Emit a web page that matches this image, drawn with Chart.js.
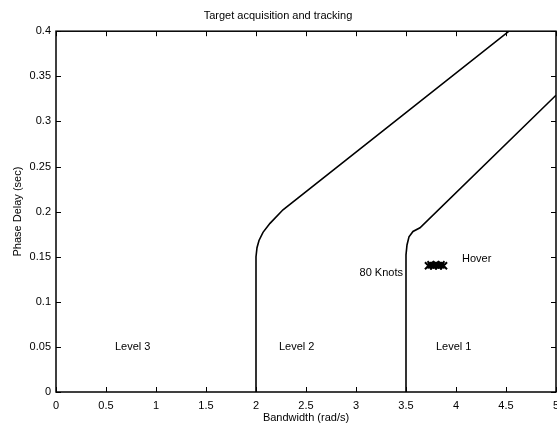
<!DOCTYPE html>
<html>
<head>
<meta charset="utf-8">
<script src="https://cdn.jsdelivr.net/npm/chart.js@4"></script>
<style>
  html, body { margin: 0; padding: 0; background: #fff; }
  #wrap { width: 557px; height: 429px; }
</style>
</head>
<body>
<div id="wrap"><canvas id="c" width="557" height="429"></canvas></div>
<script>
// Axis ticks
const xTickValues = [0, 0.5, 1, 1.5, 2, 2.5, 3, 3.5, 4, 4.5, 5];
const xTickLabels = ['0', '0.5', '1', '1.5', '2', '2.5', '3', '3.5', '4', '4.5', '5'];
const yTickValues = [0, 0.05, 0.1, 0.15, 0.2, 0.25, 0.3, 0.35, 0.4];
const yTickLabels = ['0', '0.05', '0.1', '0.15', '0.2', '0.25', '0.3', '0.35', '0.4'];

// Level 2 / Level 3 boundary
const boundary23X = [2.0, 2.0, 2.01, 2.03, 2.07, 2.14, 2.27, 4.53];
const boundary23Y = [0.0, 0.15, 0.16, 0.168, 0.177, 0.187, 0.202, 0.4];

// Level 1 / Level 2 boundary
const boundary12X = [3.5, 3.5, 3.51, 3.53, 3.57, 3.64, 5.0];
const boundary12Y = [0.0, 0.152, 0.163, 0.172, 0.178, 0.182, 0.329];

// Hover measurement points
const hoverX = [3.725, 3.75, 3.775, 3.8, 3.825, 3.85, 3.875];
const hoverY = [0.140, 0.141, 0.140, 0.141, 0.140, 0.141, 0.140];

// Region and point labels
const regionNames = ['Level 3', 'Level 2', 'Level 1'];
const regionNameX = [0.59, 2.23, 3.8];
const regionNameY = [0.05, 0.05, 0.05];
const noteNames = ['80 Knots', 'Hover'];
const noteX = [3.47, 4.06];
const noteY = [0.132, 0.148];
const noteAlign = ['right', 'left'];

const toPoints = (xs, ys) => xs.map((x, i) => ({ x: x, y: ys[i] }));
const FONT = "'Liberation Sans', Arial, Helvetica, sans-serif";

// Box around the plot with inward tick marks on all four sides
const boxTicks = {
  id: 'boxTicks',
  afterDatasetsDraw(chart) {
    const { ctx, chartArea: a, scales: { x, y } } = chart;
    const len = 5;
    ctx.save();
    ctx.strokeStyle = '#000';
    ctx.lineWidth = 1;
    ctx.beginPath();
    xTickValues.forEach(v => {
      const px = Math.round(x.getPixelForValue(v)) + 0.5;
      ctx.moveTo(px, a.bottom); ctx.lineTo(px, a.bottom - len);
      ctx.moveTo(px, a.top); ctx.lineTo(px, a.top + len);
    });
    yTickValues.forEach(v => {
      const py = Math.round(y.getPixelForValue(v)) + 0.5;
      ctx.moveTo(a.left, py); ctx.lineTo(a.left + len, py);
      ctx.moveTo(a.right, py); ctx.lineTo(a.right - len, py);
    });
    ctx.stroke();
    ctx.lineWidth = 1.5;
    ctx.strokeRect(a.left, a.top, a.right - a.left, a.bottom - a.top);
    ctx.restore();
  }
};

// Text labels placed at data coordinates
const textNotes = {
  id: 'textNotes',
  afterDatasetsDraw(chart) {
    const { ctx, scales: { x, y } } = chart;
    ctx.save();
    ctx.fillStyle = '#000';
    ctx.font = '11px ' + FONT;
    ctx.textBaseline = 'middle';
    ctx.textAlign = 'left';
    regionNames.forEach((t, i) => {
      ctx.fillText(t, x.getPixelForValue(regionNameX[i]), y.getPixelForValue(regionNameY[i]));
    });
    noteNames.forEach((t, i) => {
      ctx.textAlign = noteAlign[i];
      ctx.fillText(t, x.getPixelForValue(noteX[i]), y.getPixelForValue(noteY[i]));
    });
    ctx.restore();
  }
};

const lineStyle = {
  showLine: true,
  borderColor: '#000',
  borderWidth: 1.6,
  pointRadius: 0,
  tension: 0,
  fill: false
};

new Chart(document.getElementById('c'), {
  type: 'scatter',
  data: {
    datasets: [
      Object.assign({ label: 'Level 2 boundary', data: toPoints(boundary23X, boundary23Y) }, lineStyle),
      Object.assign({ label: 'Level 1 boundary', data: toPoints(boundary12X, boundary12Y) }, lineStyle),
      {
        label: 'Hover',
        data: toPoints(hoverX, hoverY),
        showLine: true,
        borderColor: '#000',
        borderWidth: 5,
        pointStyle: 'crossRot',
        pointRadius: 5,
        pointBorderWidth: 2,
        pointBorderColor: '#000',
        pointBackgroundColor: '#000'
      }
    ]
  },
  options: {
    responsive: false,
    animation: false,
    layout: { autoPadding: false, padding: { left: 0, right: 1, top: 0, bottom: 0 } },
    plugins: {
      legend: { display: false },
      tooltip: { enabled: false },
      title: {
        display: true,
        text: 'Target acquisition and tracking',
        color: '#000',
        font: { family: FONT, size: 11, weight: 'normal', lineHeight: 1.2 },
        padding: { top: 9, bottom: 9 }
      }
    },
    scales: {
      x: {
        type: 'linear',
        min: 0,
        max: 5,
        afterBuildTicks(scale) { scale.ticks = xTickValues.map(v => ({ value: v })); },
        afterFit(scale) { scale.height = 37; scale.paddingLeft = 0; scale.paddingRight = 0; },
        grid: { display: false, drawTicks: false },
        border: { display: false },
        ticks: {
          color: '#000',
          padding: 7,
          maxRotation: 0,
          font: { family: FONT, size: 11 },
          callback: (v) => xTickLabels[xTickValues.findIndex(t => Math.abs(t - v) < 1e-9)]
        },
        title: {
          display: true,
          text: 'Bandwidth (rad/s)',
          color: '#000',
          font: { family: FONT, size: 11, lineHeight: 1.2 },
          padding: { top: 0, bottom: 4 }
        }
      },
      y: {
        type: 'linear',
        min: 0,
        max: 0.4,
        afterBuildTicks(scale) { scale.ticks = yTickValues.map(v => ({ value: v })); },
        afterFit(scale) { scale.width = 56; scale.paddingTop = 0; scale.paddingBottom = 0; },
        grid: { display: false, drawTicks: false },
        border: { display: false },
        ticks: {
          color: '#000',
          padding: 5,
          font: { family: FONT, size: 11 },
          callback: (v) => yTickLabels[yTickValues.findIndex(t => Math.abs(t - v) < 1e-9)]
        },
        title: {
          display: true,
          text: 'Phase Delay (sec)',
          color: '#000',
          font: { family: FONT, size: 11, lineHeight: 1.2 },
          padding: { top: 11, bottom: 0 }
        }
      }
    }
  },
  plugins: [boxTicks, textNotes]
});
</script>
</body>
</html>
